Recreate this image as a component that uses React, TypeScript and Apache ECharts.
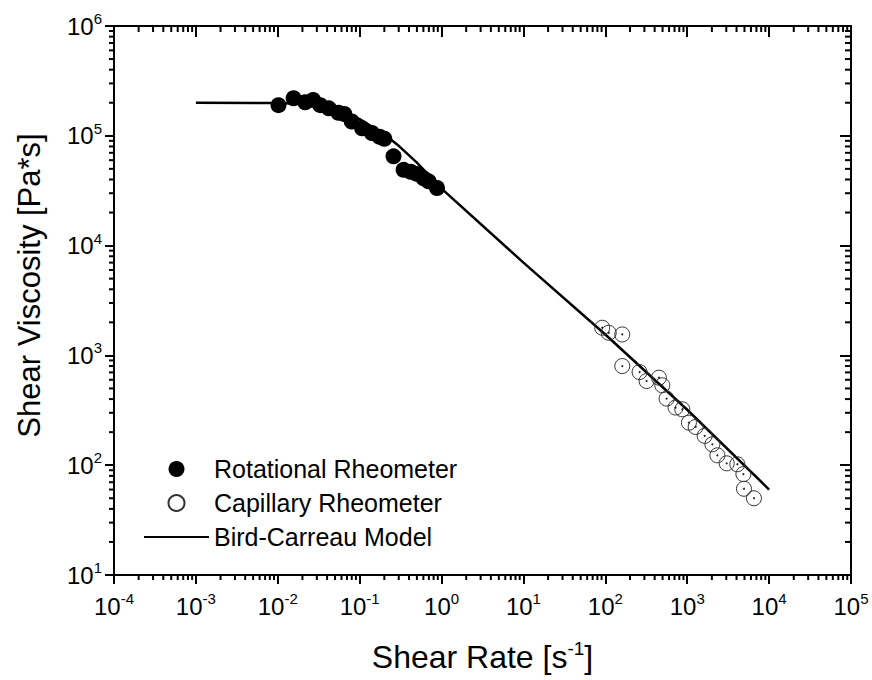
import React, { useEffect, useRef } from "react";
import * as echarts from "echarts";

// Rotational rheometer (filled dots): [shear rate, viscosity]
const rotationalRate = [0.0102, 0.0156, 0.0216, 0.027, 0.033, 0.042, 0.055, 0.065, 0.08, 0.107, 0.141, 0.175, 0.2, 0.259, 0.344, 0.42, 0.5, 0.604, 0.695, 0.88];
const rotationalVisc = [1.9e5, 2.2e5, 2.02e5, 2.12e5, 1.9e5, 1.78e5, 1.62e5, 1.58e5, 1.35e5, 1.17e5, 1.06e5, 9.8e4, 9.4e4, 6.5e4, 4.9e4, 4.7e4, 4.5e4, 4.1e4, 3.85e4, 3.35e4];

// Capillary rheometer (open circles)
const capillaryRate = [91.6, 110, 161, 161, 262, 319, 451, 496, 560, 721, 871, 1049, 1268, 1633, 2028, 2334, 3034, 4093, 4853, 4932, 6531];
const capillaryVisc = [1786, 1607, 1552, 800, 705, 584, 627, 534, 404, 335, 323, 244, 223, 185, 155, 123, 104, 102, 83, 61, 50];

// Bird-Carreau model curve
const modelRate = [1e-3, 1e-2, 2e-2, 5e-2, 0.1, 0.2, 0.3, 0.5, 1, 10, 100, 1000, 1e4];
const modelVisc = [2.0e5, 1.99e5, 1.95e5, 1.75e5, 1.42e5, 1.03e5, 8.1e4, 5.7e4, 3.3e4, 7.0e3, 1.55e3, 320, 60];

const xMin = 1e-4;
const xMax = 1e5;
const yMin = 10;
const yMax = 1e6;

const xDecades = [-4, -3, -2, -1, 0, 1, 2, 3, 4];
const yDecades = [1, 2, 3, 4, 5];
const minorMultipliers = [2, 3, 4, 5, 6, 7, 8, 9];

const FONT = "'Liberation Sans', Arial, sans-serif";

export default function App() {
  const ref = useRef<HTMLDivElement>(null);

  useEffect(() => {
    if (!ref.current) return;
    const chart = echarts.init(ref.current, null, { renderer: "svg" });

    const rotational = rotationalRate.map((x, i) => [x, rotationalVisc[i]]);
    const capillary = capillaryRate.map((x, i) => [x, capillaryVisc[i]]);
    const model = modelRate.map((x, i) => [x, modelVisc[i]]);

    const xMinor: number[][] = [];
    xDecades.forEach((d) => minorMultipliers.forEach((k) => xMinor.push([k * Math.pow(10, d), yMin])));
    const yMinor: number[][] = [];
    yDecades.forEach((d) => minorMultipliers.forEach((k) => yMinor.push([xMin, k * Math.pow(10, d)])));

    const labelFmt = (v: number) => {
      const e = Math.round(Math.log10(v));
      return `{b|10}{s|${e}}`;
    };
    const rich = {
      b: { fontSize: 24, fontFamily: FONT, color: "#000", lineHeight: 30 },
      s: { fontSize: 15, fontFamily: FONT, color: "#000", lineHeight: 16, verticalAlign: "top" },
    };

    const tickStyle = { color: "#000", width: 2 };

    const option = {
      animation: false,
      backgroundColor: "#fff",
      grid: { left: 114, right: 21, top: 26, bottom: 104, containLabel: false },
      legend: {
        orient: "vertical",
        left: 138,
        top: 451,
        itemWidth: 65,
        itemHeight: 16,
        itemGap: 8,
        data: [
          { name: "Rotational Rheometer" },
          { name: "Capillary Rheometer" },
          { name: "Bird-Carreau Model", itemStyle: { opacity: 0 } },
        ],
        textStyle: { fontSize: 25, fontFamily: FONT, color: "#000", padding: [0, 0, 0, 0], lineHeight: 26 },
      },
      xAxis: [
        {
          type: "log",
          logBase: 10,
          min: xMin,
          max: xMax,
          splitNumber: 9,
          position: "bottom",
          name: "Shear Rate [s{s|-1}]",
          nameLocation: "middle",
          nameGap: 64,
          nameTextStyle: {
            fontSize: 32,
            fontFamily: FONT,
            color: "#000",
            rich: { s: { fontSize: 19, fontFamily: FONT, color: "#000", verticalAlign: "top", lineHeight: 19 } },
            lineHeight: 36,
          },
          axisLine: { show: true, lineStyle: { color: "#000", width: 2 } },
          axisTick: { show: true, inside: false, length: 9, lineStyle: tickStyle },
          axisLabel: { formatter: labelFmt, rich, margin: 16 },
          splitLine: { show: false },
        },
        {
          type: "log",
          logBase: 10,
          min: xMin,
          max: xMax,
          splitNumber: 9,
          position: "top",
          axisLine: { show: true, lineStyle: { color: "#000", width: 2 } },
          axisTick: { show: true, inside: true, length: 11, lineStyle: tickStyle },
          axisLabel: { show: false },
          splitLine: { show: false },
        },
      ],
      yAxis: [
        {
          type: "log",
          logBase: 10,
          min: yMin,
          max: yMax,
          splitNumber: 5,
          position: "left",
          name: "Shear Viscosity [Pa*s]",
          nameLocation: "middle",
          nameGap: 69,
          nameRotate: 90,
          nameTextStyle: { fontSize: 31, fontFamily: FONT, color: "#000", padding: [0, 0, 0, 30] },
          axisLine: { show: true, lineStyle: { color: "#000", width: 2 } },
          axisTick: { show: true, inside: false, length: 9, lineStyle: tickStyle },
          axisLabel: { formatter: labelFmt, rich, margin: 12 },
          splitLine: { show: false },
        },
        {
          type: "log",
          logBase: 10,
          min: yMin,
          max: yMax,
          splitNumber: 5,
          position: "right",
          axisLine: { show: true, lineStyle: { color: "#000", width: 2 } },
          axisTick: { show: true, inside: true, length: 11, lineStyle: tickStyle },
          axisLabel: { show: false },
          splitLine: { show: false },
        },
      ],
      series: [
        {
          type: "custom",
          name: "xMinorTicks",
          silent: true,
          clip: false,
          data: xMinor,
          encode: { x: 0, y: 1 },
          renderItem: (params: any, api: any) => {
            const v = api.value(0);
            const b = api.coord([v, yMin]);
            const t = api.coord([v, yMax]);
            return {
              type: "group",
              children: [
                { type: "line", shape: { x1: b[0], y1: b[1], x2: b[0], y2: b[1] + 5 }, style: { stroke: "#000", lineWidth: 2 } },
                { type: "line", shape: { x1: t[0], y1: t[1], x2: t[0], y2: t[1] + 6 }, style: { stroke: "#000", lineWidth: 2 } },
              ],
            };
          },
        },
        {
          type: "custom",
          name: "yMinorTicks",
          silent: true,
          clip: false,
          data: yMinor,
          encode: { x: 0, y: 1 },
          renderItem: (params: any, api: any) => {
            const v = api.value(1);
            const l = api.coord([xMin, v]);
            const r = api.coord([xMax, v]);
            return {
              type: "group",
              children: [
                { type: "line", shape: { x1: l[0], y1: l[1], x2: l[0] - 5, y2: l[1] }, style: { stroke: "#000", lineWidth: 2 } },
                { type: "line", shape: { x1: r[0], y1: r[1], x2: r[0] - 6, y2: r[1] }, style: { stroke: "#000", lineWidth: 2 } },
              ],
            };
          },
        },
        {
          type: "line",
          name: "Bird-Carreau Model",
          data: model,
          showSymbol: false,
          symbol: "none",
          smooth: false,
          lineStyle: { color: "#000", width: 2.5 },
          itemStyle: { color: "#000" },
          z: 2,
        },
        {
          type: "scatter",
          name: "Rotational Rheometer",
          data: rotational,
          symbol: "circle",
          symbolSize: 16,
          itemStyle: { color: "#000", opacity: 1 },
          z: 3,
        },
        {
          type: "scatter",
          name: "Capillary Rheometer",
          data: capillary,
          symbol: "circle",
          symbolSize: 15,
          itemStyle: { color: "rgba(255,255,255,0)", borderColor: "#333", borderWidth: 1, opacity: 1 },
          z: 3,
        },
        {
          type: "scatter",
          name: "capillaryCenters",
          data: capillary,
          symbol: "circle",
          symbolSize: 2,
          silent: true,
          itemStyle: { color: "#222", opacity: 1 },
          z: 4,
        },
      ],
    };

    chart.setOption(option as any);
    return () => chart.dispose();
  }, []);

  return (
    <div
      ref={ref}
      style={{ position: "fixed", left: 0, top: 0, width: 872, height: 680, background: "#fff" }}
    />
  );
}
